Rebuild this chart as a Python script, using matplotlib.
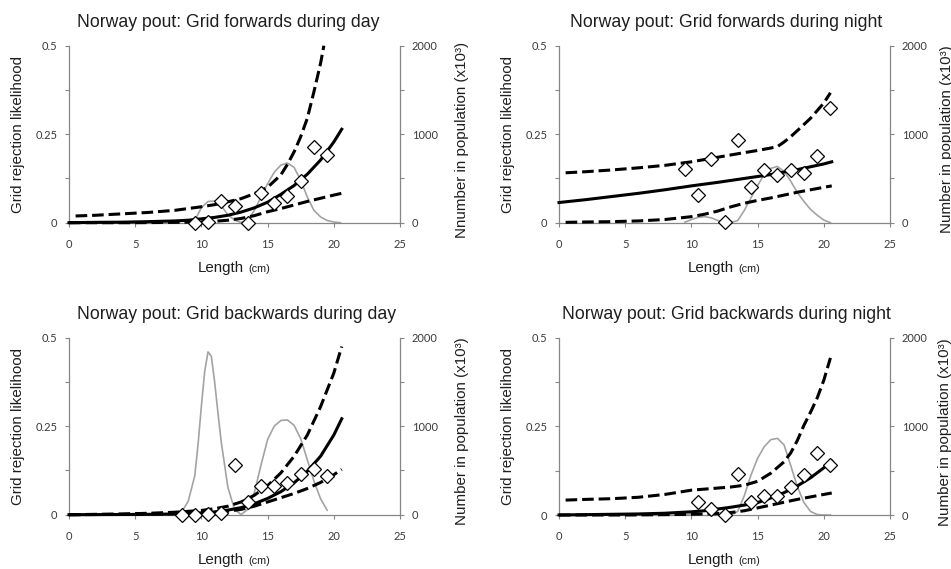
import matplotlib
matplotlib.use("Agg")
import matplotlib.pyplot as plt

# ---------------- data ----------------
titles = ["Norway pout: Grid forwards during day",
          "Norway pout: Grid forwards during night",
          "Norway pout: Grid backwards during day",
          "Norway pout: Grid backwards during night"]
right_labels = ["Nnumber in population (x10\u00b3)",
                "Number in population (x10\u00b3)",
                "Number in population (x10\u00b3)",
                "Number in population (x10\u00b3)"]

x_ticks = [0, 5, 10, 15, 20, 25]
y_ticks = [0, 0.25, 0.5]
y_tick_labels = ["0", "0.25", "0.5"]
pop_ticks = [0, 1000, 2000]
pop_tick_labels = ["0", "1000", "2000"]

# --- Forwards, day
fd_obs_len = [9.5, 10.5, 11.5, 12.5, 13.5, 14.5, 15.5, 16.5, 17.5, 18.5, 19.5]
fd_obs = [0.0, 0.002, 0.061, 0.048, 0.0, 0.083, 0.056, 0.075, 0.119, 0.214, 0.191]
fd_fit_len = [0, 2, 4, 6, 8, 9, 10, 11, 12, 13, 14, 15, 16, 17, 18, 19, 20, 20.6]
fd_fit = [0.0, 0.001, 0.0015, 0.003, 0.005, 0.007, 0.011, 0.015, 0.021, 0.030, 0.042,
          0.058, 0.080, 0.105, 0.137, 0.177, 0.228, 0.264]
fd_up_len = [0.5, 2, 4, 6, 8, 10, 11, 12, 13, 14, 15, 16, 16.5, 17, 17.5, 18, 18.5, 19, 19.25]
fd_up = [0.019, 0.021, 0.025, 0.029, 0.035, 0.045, 0.051, 0.059, 0.068, 0.082, 0.100,
         0.135, 0.165, 0.200, 0.243, 0.295, 0.370, 0.450, 0.500]
fd_lo_len = [0, 5, 8, 10, 11, 12, 13, 14, 15, 16, 17, 18, 19, 20, 20.6]
fd_lo = [0.0, 0.0, 0.001, 0.002, 0.004, 0.007, 0.012, 0.020, 0.031, 0.040, 0.050,
         0.060, 0.069, 0.078, 0.083]
fd_pop_len = [9.5, 10, 10.5, 11, 11.5, 12, 12.5, 13, 13.5, 14, 14.5, 15, 15.5, 16, 16.5,
              17, 17.5, 18, 18.5, 19, 19.5, 20, 20.5]
fd_pop = [25, 170, 240, 245, 190, 90, 30, 2, 25, 140, 290, 440, 570, 650, 675,
          625, 480, 290, 140, 65, 25, 8, 0]

# --- Forwards, night
fn_obs_len = [9.5, 10.5, 11.5, 12.5, 13.5, 14.5, 15.5, 16.5, 17.5, 18.5, 19.5, 20.5]
fn_obs = [0.152, 0.078, 0.180, 0.002, 0.234, 0.100, 0.149, 0.135, 0.149, 0.141, 0.188, 0.324]
fn_fit_len = [0, 2, 4, 6, 8, 10, 12, 14, 16, 18, 20, 20.6]
fn_fit = [0.057, 0.065, 0.074, 0.083, 0.093, 0.104, 0.114, 0.125, 0.136, 0.150, 0.166, 0.172]
fn_up_len = [0.5, 2, 4, 6, 8, 10, 12, 14, 15, 16, 16.5, 17, 17.5, 18, 19, 20, 20.5]
fn_up = [0.141, 0.144, 0.149, 0.155, 0.162, 0.172, 0.185, 0.198, 0.204, 0.211, 0.215,
         0.228, 0.243, 0.260, 0.295, 0.338, 0.367]
fn_lo_len = [0.5, 2, 4, 6, 8, 10, 11, 12, 13, 14, 15, 16, 17, 18, 19, 20, 20.6]
fn_lo = [0.001, 0.002, 0.003, 0.005, 0.009, 0.017, 0.024, 0.033, 0.045, 0.055, 0.063,
         0.070, 0.078, 0.086, 0.093, 0.100, 0.104]
fn_pop_len = [9.5, 10, 10.5, 11, 11.5, 12, 12.5, 13, 13.5, 14, 14.5, 15, 15.5, 16, 16.5,
              17, 17.5, 18, 18.5, 19, 19.5, 20, 20.5]
fn_pop = [5, 35, 60, 68, 55, 25, 2, 0, 25, 140, 280, 420, 545, 615, 635,
          580, 470, 340, 240, 150, 85, 30, 0]

# --- Backwards, day
bd_obs_len = [8.5, 9.5, 10.5, 11.5, 12.5, 13.5, 14.5, 15.5, 16.5, 17.5, 18.5, 19.5]
bd_obs = [0.0, 0.0, 0.002, 0.006, 0.139, 0.036, 0.081, 0.081, 0.090, 0.116, 0.130, 0.109]
bd_fit_len = [0, 2, 4, 6, 8, 9, 10, 11, 12, 13, 14, 15, 16, 17, 18, 19, 20, 20.6]
bd_fit = [0.0, 0.0003, 0.0006, 0.001, 0.002, 0.003, 0.005, 0.008, 0.013, 0.020, 0.031,
          0.046, 0.065, 0.090, 0.123, 0.165, 0.225, 0.271]
bd_up_len = [0, 2, 4, 6, 8, 10, 11, 12, 13, 14, 15, 16, 17, 18, 19, 20, 20.6]
bd_up = [0.0, 0.001, 0.002, 0.004, 0.007, 0.012, 0.017, 0.024, 0.036, 0.055, 0.082,
         0.118, 0.165, 0.225, 0.305, 0.400, 0.475]
bd_lo_len = [0, 4, 8, 10, 11, 12, 13, 14, 15, 16, 17, 18, 19, 20, 20.6]
bd_lo = [0.0, 0.001, 0.003, 0.005, 0.007, 0.010, 0.015, 0.024, 0.036, 0.048, 0.060,
         0.074, 0.091, 0.113, 0.128]
bd_pop_len = [8.5, 9, 9.5, 9.75, 10, 10.25, 10.5, 10.75, 11, 11.25, 11.5, 12, 12.5, 13,
              13.5, 14, 14.5, 15, 15.5, 16, 16.5, 17, 17.5, 18, 18.5, 19, 19.5]
bd_pop = [30, 150, 440, 800, 1230, 1620, 1840, 1790, 1500, 1150, 820, 310, 60, 2,
          60, 250, 560, 850, 1000, 1065, 1070, 1010, 860, 620, 380, 180, 50]

# --- Backwards, night
bn_obs_len = [10.5, 11.5, 12.5, 13.5, 14.5, 15.5, 16.5, 17.5, 18.5, 19.5, 20.5]
bn_obs = [0.038, 0.016, 0.0, 0.115, 0.038, 0.053, 0.053, 0.078, 0.113, 0.176, 0.141]
bn_fit_len = [0, 2, 4, 6, 8, 10, 11, 12, 13, 14, 15, 16, 17, 18, 19, 20, 20.6]
bn_fit = [0.0, 0.001, 0.002, 0.003, 0.005, 0.009, 0.012, 0.017, 0.022, 0.028, 0.035,
          0.048, 0.063, 0.082, 0.105, 0.133, 0.152]
bn_up_len = [0.5, 2, 4, 6, 8, 10, 11, 12, 13, 14, 15, 16, 17, 17.5, 18, 18.5, 19, 19.5, 20, 20.5]
bn_up = [0.042, 0.044, 0.046, 0.050, 0.058, 0.070, 0.073, 0.076, 0.079, 0.084, 0.095,
         0.118, 0.150, 0.175, 0.210, 0.253, 0.290, 0.330, 0.380, 0.443]
bn_lo_len = [0, 5, 8, 10, 12, 13, 14, 15, 16, 17, 18, 19, 20, 20.6]
bn_lo = [0.0, 0.0, 0.001, 0.002, 0.004, 0.007, 0.012, 0.020, 0.028, 0.036, 0.044,
         0.051, 0.058, 0.062]
bn_pop_len = [9.5, 10, 10.5, 11, 11.5, 12, 12.5, 13, 13.5, 14, 14.5, 15, 15.5, 16, 16.5,
              17, 17.5, 18, 18.5, 19, 19.5, 20, 20.5]
bn_pop = [0, 12, 35, 52, 50, 30, 8, 0, 40, 220, 450, 640, 770, 850, 865,
          790, 560, 320, 140, 40, 5, 0, 0]

panels = [
    (fd_obs_len, fd_obs, fd_fit_len, fd_fit, fd_up_len, fd_up, fd_lo_len, fd_lo, fd_pop_len, fd_pop),
    (fn_obs_len, fn_obs, fn_fit_len, fn_fit, fn_up_len, fn_up, fn_lo_len, fn_lo, fn_pop_len, fn_pop),
    (bd_obs_len, bd_obs, bd_fit_len, bd_fit, bd_up_len, bd_up, bd_lo_len, bd_lo, bd_pop_len, bd_pop),
    (bn_obs_len, bn_obs, bn_fit_len, bn_fit, bn_up_len, bn_up, bn_lo_len, bn_lo, bn_pop_len, bn_pop),
]

# ---------------- layout / style ----------------
W, H = 951, 569
fig = plt.figure(figsize=(W / 100, H / 100), dpi=100)

# axes boxes in pixels: (left, top, right, bottom)
boxes = [(69, 45.7, 400, 222.7), (559, 45.7, 890, 222.7),
         (69, 337.7, 400, 514.7), (559, 337.7, 890, 515.0)]
title_dx = [-6, 2, 2, 2]
right_off = [62, 57, 62, 55]

TXT = "Liberation Sans"
TCK = "Lato"
spine_c = "#868686"
txt_c = "#1e1e1e"
tck_c = "#3a3a3a"

for i, (box, data) in enumerate(zip(boxes, panels)):
    l, t, r, b = box
    ax = fig.add_axes([l / W, (H - b) / H, (r - l) / W, (b - t) / H])
    ax2 = ax.twinx()
    ax.set_zorder(ax2.get_zorder() + 1)
    ax.patch.set_visible(False)

    (obs_len, obs, fit_len, fit, up_len, up, lo_len, lo, pop_len, pop) = data

    ax2.plot(pop_len, pop, color="#a3a3a3", lw=1.2, clip_on=False, zorder=2)
    ax.plot(fit_len, fit, color="black", lw=2.2, clip_on=False, zorder=3)
    ax.plot(up_len, up, color="black", lw=2.2, dashes=(3.8, 1.6), clip_on=False, zorder=3)
    ax.plot(lo_len, lo, color="black", lw=2.2, dashes=(3.8, 1.6), clip_on=False, zorder=3)
    ax.plot(obs_len, obs, linestyle="none", marker="D", ms=7.3, mfc="white",
            mec="black", mew=0.9, clip_on=False, zorder=4)

    ax.set_xlim(0, 25)
    ax.set_ylim(0, 0.5)
    ax2.set_ylim(0, 2000)
    ax.set_xticks(x_ticks)
    ax.set_xticklabels([str(v) for v in x_ticks])
    ax.set_yticks(y_ticks)
    ax.set_yticklabels(y_tick_labels)
    ax.set_yticks([0.125, 0.375], minor=True)
    ax2.set_yticks(pop_ticks)
    ax2.set_yticklabels(pop_tick_labels)
    ax2.set_yticks([500, 1500], minor=True)

    for a in (ax, ax2):
        for s in a.spines.values():
            s.set_visible(False)
    ax.spines["left"].set_visible(True)
    ax.spines["bottom"].set_visible(True)
    ax2.spines["right"].set_visible(True)
    for s in (ax.spines["left"], ax.spines["bottom"], ax2.spines["right"]):
        s.set_color(spine_c)
        s.set_linewidth(0.9)

    ax.tick_params(axis="x", which="both", direction="out", length=3, width=0.8,
                   color=spine_c, pad=8.5, labelsize=8, labelcolor=tck_c)
    ax.tick_params(axis="y", which="both", direction="out", length=3, width=0.8,
                   color=spine_c, pad=5.5, labelsize=8, labelcolor=tck_c)
    ax2.tick_params(axis="y", which="both", direction="out", length=3, width=0.8,
                    color=spine_c, pad=5.5, labelsize=8, labelcolor=tck_c)
    for lab in ax.get_xticklabels() + ax.get_yticklabels() + ax2.get_yticklabels():
        lab.set_fontfamily(TCK)

    pw, ph = r - l, b - t
    ax.text(0.5 + title_dx[i] / pw, 1 + 19 / ph, titles[i], transform=ax.transAxes,
            ha="center", va="baseline", fontsize=12.7, family=TXT, color=txt_c)
    ax.text(-51 / pw, 0.5, "Grid rejection likelihood", transform=ax.transAxes,
            rotation=90, ha="center", va="center", fontsize=10.9, family=TXT, color=txt_c)
    ax.text(1 + right_off[i] / pw, 0.47, right_labels[i], transform=ax.transAxes,
            rotation=90, ha="center", va="center", fontsize=10.9, family=TXT, color=txt_c)
    ax.text(0.5 + 9.5 / pw, -49 / ph, "Length", transform=ax.transAxes,
            ha="right", va="baseline", fontsize=10.9, family=TXT, color=txt_c)
    ax.text(0.5 + 13.5 / pw, -49 / ph, "(cm)", transform=ax.transAxes,
            ha="left", va="baseline", fontsize=7.8, family=TXT, color=txt_c)

fig.savefig("out.png", dpi=100)
